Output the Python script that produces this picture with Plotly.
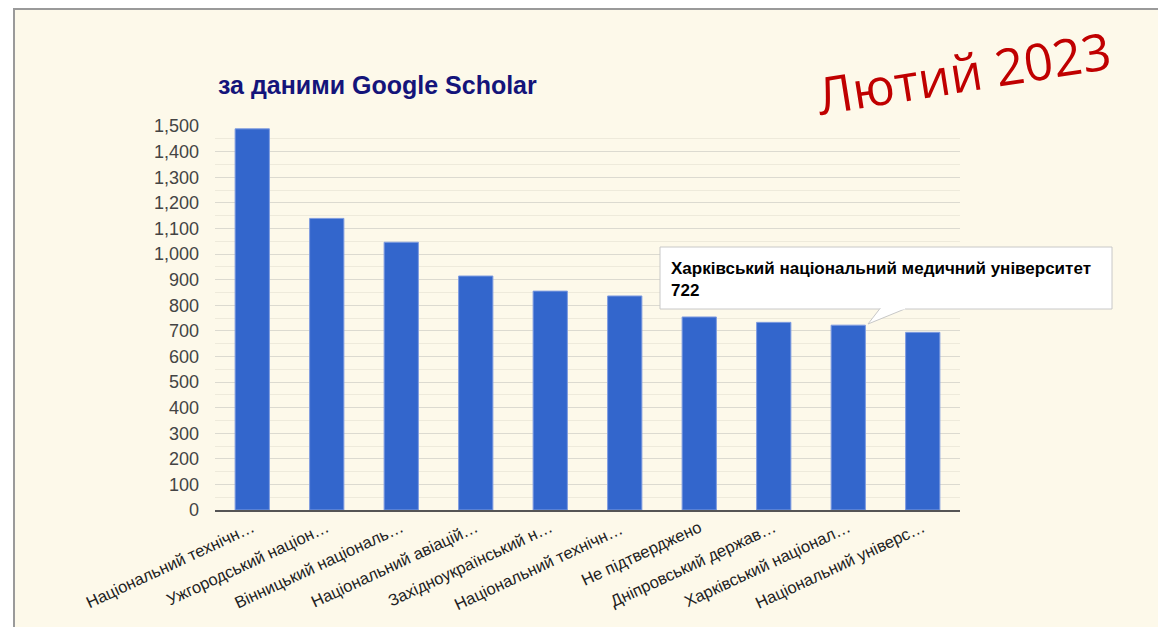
import plotly.graph_objects as go

categories = [
    "Національний технічн…",
    "Ужгородський націон…",
    "Вінницький національ…",
    "Національний авіацій…",
    "Західноукраїнський н…",
    "Національний технічн… ",
    "Не підтверджено",
    "Дніпровський держав…",
    "Харківський націонал…",
    "Національний універс…",
]
values = [1489, 1139, 1046, 914, 855, 836, 754, 733, 722, 694]
y_ticks = list(range(0, 1501, 100))

# the page body adds an 8px margin, so the figure is sized to fit the window
OFF = 8
W, H = 1166 - OFF, 627 - OFF
L, R, T, B = 215, 960, 126, 510  # plot area in window px


def px(x):
    return (x - L) / (R - L)


def py(y):
    return (B - y) / (B - T)


fig = go.Figure()
fig.add_trace(go.Bar(
    x=categories, y=values,
    marker=dict(color="#3366cc", line=dict(color="#7f9ce0", width=1)),
    width=0.46, hoverinfo="skip",
))

shapes = [
    # slide frame
    dict(type="rect", xref="paper", yref="paper",
         x0=px(14), x1=px(1161), y0=py(650), y1=py(9),
         fillcolor="#fdf9ea", line=dict(color="#9a9a9a", width=2), layer="below"),
    # tooltip box
    dict(type="rect", xref="paper", yref="paper",
         x0=px(660), x1=px(1112), y0=py(309), y1=py(247),
         fillcolor="white", line=dict(color="#c8c8c8", width=1), layer="above"),
    # tooltip tail
    dict(type="path", xref="paper", yref="paper",
         path=f"M {px(880)} {py(308.5)} L {px(868)} {py(324)} L {px(906)} {py(308.5)} Z",
         fillcolor="white", line=dict(color="#c8c8c8", width=1), layer="above"),
    dict(type="line", xref="paper", yref="paper",
         x0=px(880.5), x1=px(905.5), y0=py(308.5), y1=py(308.5),
         line=dict(color="white", width=2), layer="above"),
]

annotations = [
    dict(text="<b>за даними Google Scholar</b>", xref="paper", yref="paper",
         x=px(216), y=py(85), xanchor="left", yanchor="middle", showarrow=False,
         font=dict(family="Liberation Sans, Arial", size=25, color="#14147a")),
    dict(text="Лютий 2023", xref="paper", yref="paper",
         x=px(963), y=py(72), xanchor="center", yanchor="middle", showarrow=False,
         textangle=-9,
         font=dict(family="Open Sans, sans-serif", size=51, color="#c00000")),
    dict(text=f"<b>Харківський національний медичний університет<br>{values[8]}</b>",
         xref="paper", yref="paper", x=px(669), y=py(279), xanchor="left", yanchor="middle",
         align="left", showarrow=False,
         font=dict(family="Liberation Sans, Arial", size=17, color="#000000")),
]

fig.update_layout(
    width=W, height=H,
    margin=dict(l=L - OFF, r=W - (R - OFF), t=T - OFF, b=H - (B - OFF), pad=0),
    paper_bgcolor="white", plot_bgcolor="rgba(0,0,0,0)",
    showlegend=False, bargap=0.54,
    shapes=shapes, annotations=annotations,
    font=dict(family="Liberation Sans, Arial"),
    hovermode=False,
)
fig.update_xaxes(
    type="category", tickangle=-25, showgrid=False, automargin=False,
    tickfont=dict(size=16.5, color="#222222"),
    showline=True, linecolor="#555555", linewidth=2,
    ticks="", range=[-0.5, len(categories) - 0.5],
)
fig.update_yaxes(
    range=[0, 1500], tickvals=y_ticks, tickformat=",", automargin=False,
    tickfont=dict(size=18, color="#444444"),
    showgrid=True, gridcolor="#dcdad0", gridwidth=1,
    minor=dict(dtick=50, showgrid=True, gridcolor="#eeeadb", gridwidth=1),
    zeroline=False, ticks="", ticklabelstandoff=15,
)

fig.write_html("out.html")
